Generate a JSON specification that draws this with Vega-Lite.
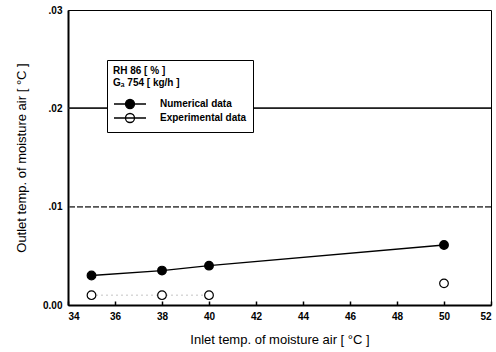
{
  "$schema": "https://vega.github.io/schema/vega-lite/v6.json",
  "width": 423,
  "height": 295,
  "autosize": {"type": "none"},
  "padding": {"left": 68, "top": 10, "right": 5, "bottom": 47},
  "background": "white",
  "config": {
    "view": {"stroke": "black", "strokeWidth": 1},
    "font": "Liberation Sans",
    "axis": {"labelFont": "Liberation Sans", "titleFont": "Liberation Sans", "labelColor": "black", "titleColor": "black", "domainColor": "black", "tickColor": "black", "grid": false, "labelFontWeight": "bold", "labelFontSize": 10, "titleFontSize": 13, "titleFontWeight": "normal"}
  },
  "data": {
    "values": [
      {"inlet": 35, "outlet": 0.0030, "series": "Numerical data"},
      {"inlet": 38, "outlet": 0.0035, "series": "Numerical data"},
      {"inlet": 40, "outlet": 0.0040, "series": "Numerical data"},
      {"inlet": 50, "outlet": 0.0061, "series": "Numerical data"},
      {"inlet": 35, "outlet": 0.0010, "series": "Experimental data"},
      {"inlet": 38, "outlet": 0.0010, "series": "Experimental data"},
      {"inlet": 40, "outlet": 0.0010, "series": "Experimental data"},
      {"inlet": 50, "outlet": 0.0022, "series": "Experimental data"}
    ]
  },
  "encoding": {
    "x": {
      "field": "inlet", "type": "quantitative",
      "scale": {"domain": [34, 52], "nice": false, "zero": false},
      "axis": {"values": [34, 36, 38, 40, 42, 44, 46, 48, 50, 52], "title": "Inlet temp. of moisture air [ °C ]", "domainWidth": 2, "tickSize": -4, "tickWidth": 1.5, "labelPadding": 10, "titlePadding": 12}
    },
    "y": {
      "field": "outlet", "type": "quantitative",
      "scale": {"domain": [0, 0.03], "nice": false},
      "axis": {"values": [0, 0.01, 0.02, 0.03], "labelExpr": "datum.value === 0 ? '0.00' : '.0' + round(datum.value * 100)", "title": "Outlet temp. of moisture air [ °C ]", "domainWidth": 2, "tickSize": 0, "labelPadding": 6, "titlePadding": 14}
    }
  },
  "layer": [
    {
      "mark": {"type": "rule", "color": "#555", "strokeWidth": 1, "strokeDash": [6, 2]},
      "encoding": {"y": {"datum": 0.01}, "x": null}
    },
    {
      "mark": {"type": "rule", "color": "#222", "strokeWidth": 1},
      "encoding": {"y": {"datum": 0.02}, "x": null}
    },
    {
      "transform": [{"filter": "datum.series === 'Numerical data'"}],
      "mark": {"type": "line", "color": "black", "strokeWidth": 1.3}
    },
    {
      "transform": [{"filter": "datum.series === 'Experimental data' && datum.inlet <= 40"}],
      "mark": {"type": "line", "color": "#888", "strokeWidth": 1, "strokeDash": [1, 4]}
    },
    {
      "mark": {"type": "point", "filled": true, "stroke": "black", "strokeWidth": 1.2, "size": 75, "opacity": 1},
      "encoding": {
        "fill": {
          "field": "series", "type": "nominal",
          "scale": {"domain": ["Numerical data", "Experimental data"], "range": ["black", "white"]},
          "legend": {
            "orient": "none", "legendX": 39, "legendY": 50,
            "title": ["RH 86  [ % ]", "Gₐ 754 [ kg/h ]"],
            "titleFont": "Liberation Sans", "titleFontSize": 10, "titleFontWeight": "bold", "titleColor": "black",
            "labelFont": "Liberation Sans", "labelFontSize": 10, "labelFontWeight": "bold", "labelColor": "black",
            "strokeColor": "black", "fillColor": "white", "padding": 6,
            "symbolType": "M-3.2,0L3.2,0M0.9,0A0.9,0.9 0 1,1 -0.9,0A0.9,0.9 0 1,1 0.9,0Z",
            "symbolSize": 100, "symbolStrokeColor": "black", "symbolStrokeWidth": 1.3,
            "symbolOffset": 11, "labelOffset": 24,
            "rowPadding": -4, "titlePadding": 10
          }
        }
      }
    }
  ]
}
